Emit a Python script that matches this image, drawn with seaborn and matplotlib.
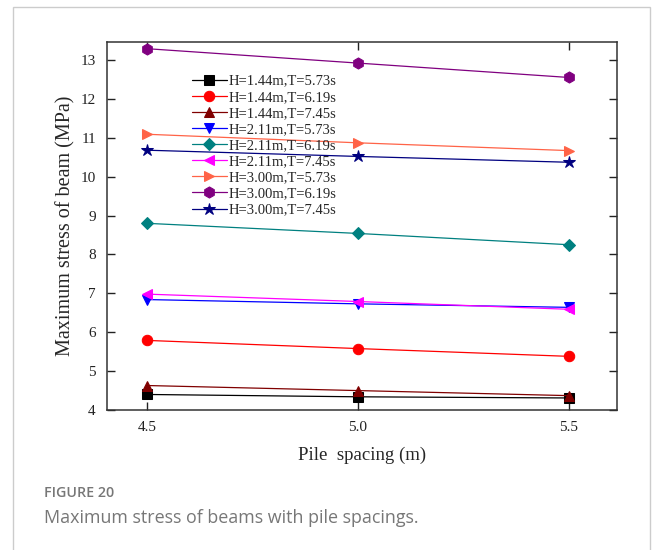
import numpy as np
import pandas as pd
import seaborn as sns
import matplotlib.pyplot as plt
from matplotlib.patches import Rectangle

# --- data ---
spacing = [4.5, 5.0, 5.5]
labels = [
    'H=1.44m,T=5.73s', 'H=1.44m,T=6.19s', 'H=1.44m,T=7.45s',
    'H=2.11m,T=5.73s', 'H=2.11m,T=6.19s', 'H=2.11m,T=7.45s',
    'H=3.00m,T=5.73s', 'H=3.00m,T=6.19s', 'H=3.00m,T=7.45s',
]
h144_t573 = [4.40, 4.34, 4.31]
h144_t619 = [5.79, 5.58, 5.38]
h144_t745 = [4.63, 4.50, 4.37]
h211_t573 = [6.84, 6.73, 6.64]
h211_t619 = [8.80, 8.54, 8.25]
h211_t745 = [6.98, 6.79, 6.59]
h300_t573 = [11.09, 10.87, 10.67]
h300_t619 = [13.29, 12.92, 12.55]
h300_t745 = [10.68, 10.52, 10.37]
series = [h144_t573, h144_t619, h144_t745, h211_t573, h211_t619,
          h211_t745, h300_t573, h300_t619, h300_t745]

colors = ['black', 'red', '#800000', 'blue', '#008080', 'magenta',
          '#FF6347', '#800080', '#000080']
markers = ['s', 'o', '^', 'v', 'D', '<', '>', 'h', '*']
msizes = [6.5, 7.5, 7.5, 7.5, 6.5, 7.5, 7.5, 8, 9]

rows = []
for lab, vals in zip(labels, series):
    for x, v in zip(spacing, vals):
        rows.append({'Pile spacing': x, 'Stress': v, 'Case': lab})
df = pd.DataFrame(rows)

sns.set_theme(style="ticks")
plt.rcParams['font.family'] = ['Liberation Serif', 'DejaVu Serif']

fig = plt.figure(figsize=(6.56, 5.5), dpi=100)
ax = fig.add_axes([0.163, 0.2545, 0.778, 0.669])

for lab, c, m, ms in zip(labels, colors, markers, msizes):
    sub = df[df['Case'] == lab]
    sns.lineplot(data=sub, x='Pile spacing', y='Stress', ax=ax, color=c,
                 marker=m, markersize=ms, markeredgecolor=c, linewidth=0.9,
                 label=lab)

ax.set_xlim(4.405, 5.615)
ax.set_ylim(4, 13.46)
ax.set_xticks(spacing)
ax.set_xticklabels(['4.5', '5.0', '5.5'])
ax.set_yticks(range(4, 14))
ax.tick_params(direction='in', top=True, right=True, length=6, width=1,
               labelsize=11, colors='#222222', pad=8)
for s in ax.spines.values():
    s.set_linewidth(1.1)
    s.set_color('#333333')
ax.set_xlabel('Pile  spacing (m)', fontsize=13.5, labelpad=9)
ax.set_ylabel('Maximum stress of beam (MPa)', fontsize=14.5, labelpad=4)

leg = ax.legend(loc='upper left', bbox_to_anchor=(0.155, 0.928), frameon=False,
                fontsize=10.5, handlelength=2.4, handletextpad=0.1,
                labelspacing=0.2, borderaxespad=0)

# card border and caption
fig.patches.append(Rectangle((13 / 656, -0.05), 637 / 656, 1.05 - 7 / 550,
                             transform=fig.transFigure, fill=False,
                             edgecolor='#cccccc', linewidth=1))
fig.text(44 / 656, 1 - 493 / 550, 'FIGURE 20', fontsize=10.3, color='#777777',
         family=['Open Sans', 'DejaVu Sans'], weight='semibold', va='center')
fig.text(44 / 656, 1 - 518 / 550, 'Maximum stress of beams with pile spacings.',
         fontsize=12.9, color='#777777', family=['Open Sans', 'DejaVu Sans'],
         va='center')

fig.savefig('out.png', dpi=100)
